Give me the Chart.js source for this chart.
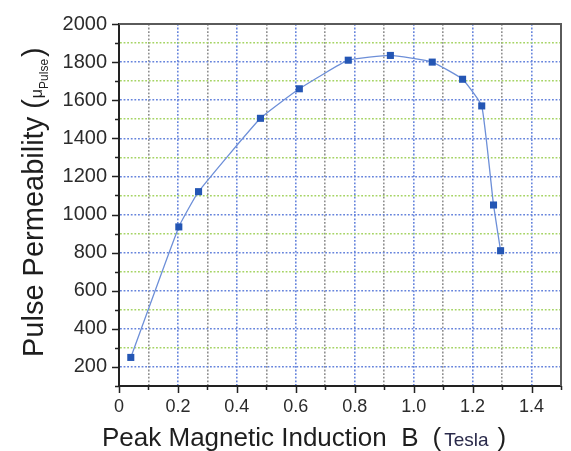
<!DOCTYPE html>
<html>
<head>
<meta charset="utf-8">
<script src="https://cdn.jsdelivr.net/npm/chart.js@4/dist/chart.umd.min.js"></script>
<style>
  html, body { margin: 0; padding: 0; background: #fff; }
  canvas { display: block; }
</style>
</head>
<body>
<canvas id="permChart" width="571" height="451"></canvas>
<script>
// Pulse permeability vs peak magnetic induction

const inductionB = [0.04, 0.203, 0.27, 0.48, 0.612, 0.778, 0.921, 1.063, 1.166, 1.231, 1.271, 1.295];
const permeability = [250, 935, 1120, 1505, 1660, 1810, 1835, 1800, 1710, 1570, 1050, 810];
const xTickLabels = ['0', '0.2', '0.4', '0.6', '0.8', '1.0', '1.2', '1.4'];
const yTickLabels = ['200', '400', '600', '800', '1000', '1200', '1400', '1600', '1800', '2000'];

const TICK_FONT = '"Liberation Sans", Arial, sans-serif';

// is this tick a labelled (major) one?
function isMajorX(v) {
    return xTickLabels.includes(formatX(v));
}
function formatX(v) {
    const r = Math.round(v * 10) / 10;
    return r === 0 ? '0' : r.toFixed(1);
}
function isMajorY(v) {
    return yTickLabels.includes(String(Math.round(v)));
}

// frame on top/right, outward tick marks and the axis titles
const framePlugin = {
    id: 'frame',
    beforeDatasetsDraw(chart) {
        const { ctx, chartArea: a } = chart;
        ctx.save();
        ctx.strokeStyle = '#5a5a5a';
        ctx.lineWidth = 2;
        ctx.beginPath();
        ctx.moveTo(a.left, a.top);
        ctx.lineTo(a.right, a.top);
        ctx.lineTo(a.right, a.bottom);
        ctx.stroke();
        ctx.restore();
    },
    afterDraw(chart) {
        const { ctx, chartArea: a, scales } = chart;
        ctx.save();
        ctx.strokeStyle = '#222';
        ctx.lineWidth = 1.5;
        ctx.beginPath();
        scales.x.ticks.forEach(t => {
            const px = Math.round(scales.x.getPixelForValue(t.value)) + 0.5;
            const len = isMajorX(t.value) ? 7 : 4;
            ctx.moveTo(px, a.bottom);
            ctx.lineTo(px, a.bottom + len);
        });
        scales.y.ticks.forEach(t => {
            const py = Math.round(scales.y.getPixelForValue(t.value)) + 0.5;
            const len = isMajorY(t.value) ? 7 : 4;
            ctx.moveTo(a.left, py);
            ctx.lineTo(a.left - len, py);
        });
        ctx.stroke();

        ctx.fillStyle = '#1e1e1e';
        ctx.textBaseline = 'alphabetic';
        ctx.textAlign = 'left';

        // x title
        let x = 102;
        const xb = 446;
        ctx.font = '26px ' + TICK_FONT;
        const main = 'Peak Magnetic Induction  B';
        ctx.fillText(main, x, xb);
        x += ctx.measureText(main).width + 14;
        ctx.fillText('(', x, xb);
        x += ctx.measureText('(').width + 3;
        ctx.font = '19px ' + TICK_FONT;
        ctx.fillStyle = '#2a2a4a';
        ctx.fillText('Tesla', x, xb);
        x += ctx.measureText('Tesla').width + 9;
        ctx.fillStyle = '#1e1e1e';
        ctx.font = '26px ' + TICK_FONT;
        ctx.fillText(')', x, xb);

        // y title, rotated
        ctx.translate(43, 357);
        ctx.rotate(-Math.PI / 2);
        let y = 0;
        ctx.font = '29px ' + TICK_FONT;
        const yMain = 'Pulse Permeability (';
        ctx.fillText(yMain, y, 0);
        y += ctx.measureText(yMain).width + 1;
        ctx.font = '16px ' + TICK_FONT;
        ctx.fillText('\u03bc', y, -1);
        y += ctx.measureText('\u03bc').width;
        ctx.font = '12px ' + TICK_FONT;
        ctx.fillText('Pulse', y, 5);
        y += ctx.measureText('Pulse').width + 2;
        ctx.font = '29px ' + TICK_FONT;
        ctx.fillText(')', y, 0);
        ctx.restore();
    }
};

new Chart(document.getElementById('permChart'), {
    type: 'scatter',
    data: {
        datasets: [{
            data: inductionB.map((b, i) => ({ x: b, y: permeability[i] })),
            showLine: true,
            borderColor: '#6d8fd8',
            borderWidth: 1.3,
            tension: 0.12,
            pointStyle: 'rect',
            pointRadius: 5,
            pointBackgroundColor: '#2456b4',
            pointBorderColor: '#2456b4',
            pointBorderWidth: 0
        }]
    },
    options: {
        responsive: false,
        animation: false,
        layout: { padding: { top: 19, right: 2, left: 0, bottom: 0 } },
        plugins: {
            legend: { display: false },
            tooltip: { enabled: false }
        },
        scales: {
            x: {
                type: 'linear',
                min: 0,
                max: 1.5,
                afterFit(scale) { scale.height = 65; },
                ticks: {
                    stepSize: 0.1,
                    autoSkip: false,
                    maxRotation: 0,
                    padding: 10,
                    color: '#2b2b2b',
                    font: { family: TICK_FONT, size: 18 },
                    callback: v => isMajorX(v) ? formatX(v) : ''
                },
                grid: {
                    drawTicks: false,
                    lineWidth: 1.6,
                    color: c => isMajorX(c.tick.value) ? '#6684dc' : '#8f8f8f'
                },
                border: { color: '#222', width: 2, dash: [1.8, 1.8] }
            },
            y: {
                type: 'linear',
                min: 100,
                max: 2000,
                afterFit(scale) { scale.width = 119; },
                ticks: {
                    stepSize: 100,
                    autoSkip: false,
                    padding: 12,
                    color: '#2b2b2b',
                    font: { family: TICK_FONT, size: 20 },
                    callback: v => isMajorY(v) ? String(v) : ''
                },
                grid: {
                    drawTicks: false,
                    lineWidth: 1.6,
                    color: c => isMajorY(c.tick.value) ? '#6684dc' : '#a6d465'
                },
                border: { color: '#222', width: 2, dash: [1.8, 1.8] }
            }
        }
    },
    plugins: [framePlugin]
});
</script>
</body>
</html>
